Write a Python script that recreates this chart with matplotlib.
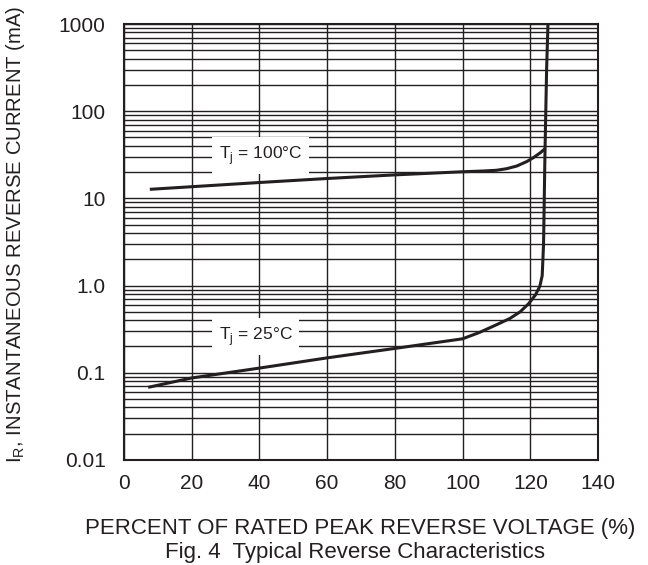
import numpy as np
import matplotlib
import matplotlib.pyplot as plt

matplotlib.rcParams['font.family'] = ['Liberation Sans', 'DejaVu Sans']
matplotlib.rcParams['font.size'] = 15

# percent of rated peak reverse voltage vs reverse current (mA)
x_100 = [7.7, 20, 40, 60, 80, 100, 106, 110, 113, 116, 119, 121, 123, 124.3]
i_100 = [12.7, 13.6, 15.2, 16.9, 18.6, 20.2, 20.6, 21.0, 21.9, 23.5, 26.5, 29.5, 33.5, 37.0]

x_25 = [7.2, 20, 40, 60, 80, 100, 105, 110, 114, 117, 119.5, 121.5, 122.8, 123.5, 123.9, 124.3, 124.8, 125.2]
i_25 = [0.068, 0.087, 0.113, 0.148, 0.19, 0.245, 0.29, 0.355, 0.42, 0.50, 0.62, 0.78, 0.98, 1.3, 3.0, 30, 300, 1000]

fig = plt.figure(figsize=(6.48, 5.65), dpi=100)
ax = fig.add_axes([0.191, 0.186, 0.732, 0.7715])

ax.plot(x_100, i_100, color='#231f20', lw=2.2, solid_capstyle='butt')
ax.plot(x_25, i_25, color='#231f20', lw=2.2, solid_capstyle='butt')

ax.set_yscale('log')
ax.set_xlim(0, 140)
ax.set_ylim(0.01, 1000)
ax.set_xticks(np.arange(0, 141, 20))
ax.set_yticks([0.01, 0.1, 1, 10, 100, 1000])
ax.set_yticklabels(['0.01', '0.1', '1.0', '10', '100', '1000'])
ax.tick_params(which='both', length=0, labelsize=15, colors='#231f20')
ax.tick_params(axis='y', pad=13)
ax.tick_params(axis='x', pad=10)

ax.grid(which='major', axis='x', color='#231f20', lw=1.0)
ax.grid(which='both', axis='y', color='#231f20', lw=1.0)
for s in ax.spines.values():
    s.set_linewidth(1.5)
    s.set_color('#231f20')

box = dict(facecolor='white', edgecolor='none', pad=5)
ax.text(28, 31, 'T$_\\mathregular{j}$ = 100°C', fontsize=12.5, va='center', bbox=box, color='#231f20')
ax.text(28, 0.26, 'T$_\\mathregular{j}$ = 25°C', fontsize=12.5, va='center', bbox=box, color='#231f20')

ax.set_ylabel('I$_\\mathregular{R}$, INSTANTANEOUS REVERSE CURRENT (mA)', fontsize=14.6, color='#231f20')
ax.yaxis.set_label_coords(-0.203, 0.518)
fig.text(0.556, 0.064, 'PERCENT OF RATED PEAK REVERSE VOLTAGE (%)', ha='center', va='center',
         fontsize=16, color='#231f20')
fig.text(0.548, 0.023, 'Fig. 4  Typical Reverse Characteristics', ha='center', va='center',
         fontsize=16, color='#231f20')

plt.savefig('out.png', dpi=100)
